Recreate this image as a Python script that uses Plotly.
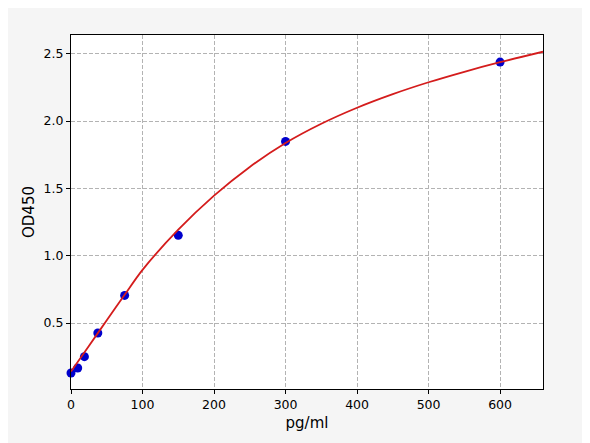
import plotly.graph_objects as go

# standard points
conc = [0, 9.375, 18.75, 37.5, 75, 150, 300, 600]
od = [0.129, 0.166, 0.25, 0.426, 0.705, 1.151, 1.849, 2.438]

# fitted curve, sampled by eye along the red line
curve_x = [0, 25, 50, 75, 100, 150, 200, 250, 300, 350, 400, 450, 500, 550, 600, 660]
curve_y = [0.14, 0.33, 0.52, 0.71, 0.895, 1.193, 1.446, 1.659, 1.837, 1.980, 2.099, 2.200, 2.288, 2.366, 2.437, 2.515]

x_ticks = [0, 100, 200, 300, 400, 500, 600]
y_ticks = [0.5, 1.0, 1.5, 2.0, 2.5]

fig = go.Figure()
fig.add_trace(go.Scatter(x=conc, y=od, mode="markers",
                         marker=dict(color="#0000cc", size=9),
                         cliponaxis=False, showlegend=False))
fig.add_trace(go.Scatter(x=curve_x, y=curve_y, mode="lines",
                         line=dict(color="#d41c1c", width=1.8, shape="spline", smoothing=0.8),
                         showlegend=False))

axis_style = dict(showline=True, linecolor="black", linewidth=1, mirror=True,
                  ticks="outside", ticklen=4, tickcolor="black",
                  showgrid=True, gridcolor="#b3b3b3", gridwidth=0.8, griddash="4px,2px",
                  zeroline=False, tickfont=dict(size=12.5, color="black"))

# the page puts the plot 8px in from the top-left corner, so the
# figure is a little smaller and the margins are cut by that much
fig.update_layout(
    width=582, height=435,
    margin=dict(l=63, r=47, t=27, b=54),
    paper_bgcolor="#f5f5f5", plot_bgcolor="white",
    font=dict(family="DejaVu Sans", size=12.5, color="black"),
    xaxis=dict(range=[0, 660], tickvals=x_ticks,
               title=dict(text="pg/ml", standoff=6), **axis_style),
    yaxis=dict(range=[0.01, 2.639], tickvals=y_ticks, tickformat=".1f",
               title=dict(text="OD450", standoff=5), **axis_style),
)

fig.write_html("out.html")
